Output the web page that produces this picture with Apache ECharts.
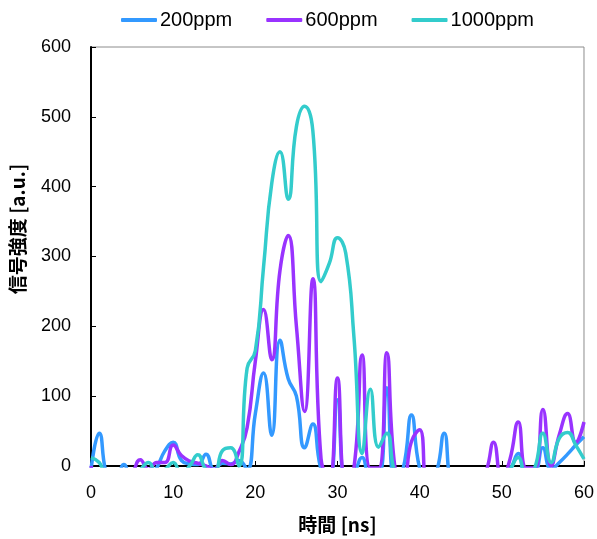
<!DOCTYPE html>
<html>
<head>
<meta charset="utf-8">
<script src="https://cdn.jsdelivr.net/npm/echarts@6/dist/echarts.min.js"></script>
<style>
html, body { margin: 0; padding: 0; background: #fff; }
#chart { width: 597px; height: 539px; }
</style>
</head>
<body>
<div id="chart"></div>
<script>
// time axis [ns], 1 ns steps
var times = [];
for (var t = 0; t <= 60; t++) times.push(t);

var seriesNames = ['200ppm', '600ppm', '1000ppm'];
var colors = ['#3399FF', '#9933FF', '#33CCCC'];

// values (negative = dips below the axis and gets clipped)
var ppm200 = [
    -5, 47, -15, -20, 2, -20, -20, -20, -3, 22,
    34, 8, 3, 2, 17, -5, 4, 3, 8, -5,
    75, 133, 44, 180, 125, 100, 26, 60, -5, -20,
    95, -20, -10, 12, -15, -15, 112, -20, -3, 73,
    -3, -20, -10, 47, -20, -20, -20, -20, -20, -20,
    -15, -5, 18, -20, -15, 26, -5, 5, 17, 30, 42
];
var ppm600 = [
    0, -20, -20, -20, -20, -10, 9, -5, 5, 5,
    30, 15, 7, 4, 0, -5, 8, 2, 20, 55,
    150, 224, 152, 280, 330, 200, 78, 268, 10, -20,
    126, -20, -3, 159, -3, -3, 162, -3, -20, 35,
    52, -25, -20, -20, -20, -20, -20, -20, -10, 34,
    -20, 10, 63, -3, -3, 81, 0, 45, 75, 34, 63
];
var ppm1000 = [
    12, 5, -15, -15, -15, -15, -5, 5, -10, -5,
    5, -10, 0, 16, -5, -10, 22, 26, 0, 140,
    165, 285, 405, 450, 382, 486, 515, 480, 264, 290,
    327, 305, 185, 18, 110, 27, 47, -10, -20, -20,
    -20, -20, -20, -20, -20, -20, -20, -20, -20, -20,
    -20, -5, 12, -15, -3, 47, 5, 40, 48, 30, 10
];

var XTICKS = [0, 60, 10];
var YTICKS = [0, 600, 100];

function pairs(vals) {
    return times.map(function (t, i) { return [t, vals[i]]; });
}

var chart = echarts.init(document.getElementById('chart'));
var font = 'Liberation Sans, Arial, sans-serif';
var cjk = 'Noto Sans CJK JP, sans-serif';

var option = {
    animation: false,
    color: colors,
    legend: {
        top: 5,
        left: 116,
        icon: 'roundRect',
        itemWidth: 36,
        itemHeight: 4,
        itemGap: 34,
        textStyle: { fontFamily: font, fontSize: 20, color: '#000', padding: [0, 0, 0, -2] },
        data: seriesNames
    },
    grid: {
        left: 91, right: 13, top: 47, bottom: 73,
        show: true,
        borderColor: '#8c8c8c',
        borderWidth: 1
    },
    // y-axis title sits above the plot centre in the original
    graphic: [{
        type: 'text',
        x: 18, y: 229,
        rotation: Math.PI / 2,
        style: {
            text: '信号強度 [a.u.]',
            font: 'bold 19px Noto Sans CJK JP, sans-serif',
            fill: '#000',
            align: 'center',
            verticalAlign: 'middle'
        }
    }],
    xAxis: {
        type: 'value',
        min: XTICKS[0], max: XTICKS[1], interval: XTICKS[2],
        name: '時間 [ns]',
        nameLocation: 'middle',
        nameGap: 49,
        nameTextStyle: { fontFamily: cjk, fontSize: 19, fontWeight: 'bold', color: '#000' },
        axisLine: { lineStyle: { color: '#000', width: 2 } },
        axisTick: { inside: true, length: 5, lineStyle: { color: '#000', width: 1 } },
        axisLabel: { fontFamily: font, fontSize: 18, color: '#000', margin: 18 },
        splitLine: { show: false }
    },
    yAxis: {
        type: 'value',
        min: YTICKS[0], max: YTICKS[1], interval: YTICKS[2],
        axisLine: { show: true, lineStyle: { color: '#000', width: 2 } },
        axisTick: { show: true, inside: true, length: 5, lineStyle: { color: '#000', width: 1 } },
        axisLabel: { fontFamily: font, fontSize: 18, color: '#000', margin: 20 },
        splitLine: { show: false }
    },
    series: [ppm200, ppm600, ppm1000].map(function (vals, i) {
        return {
            name: seriesNames[i],
            type: 'line',
            data: pairs(vals),
            smooth: 0.5,
            symbol: 'none',
            clip: true,
            lineStyle: { width: 3.5, color: colors[i] },
            z: 2 + i
        };
    })
};

chart.setOption(option);
</script>
</body>
</html>
